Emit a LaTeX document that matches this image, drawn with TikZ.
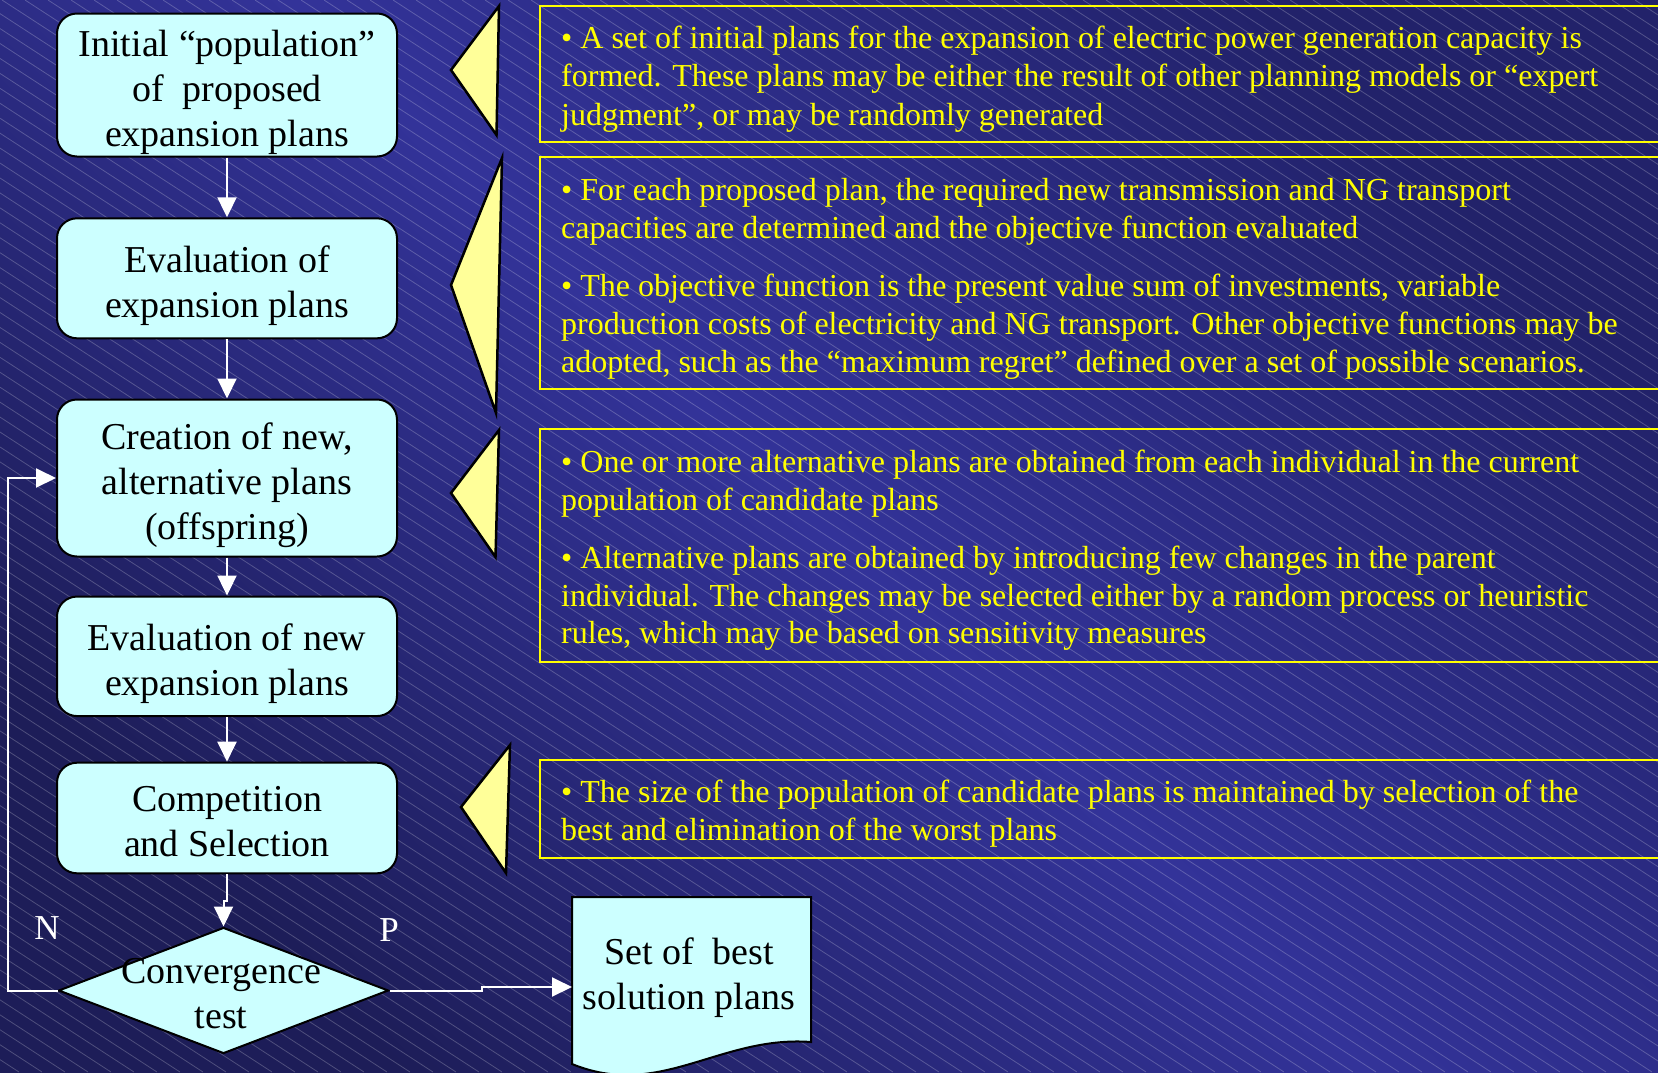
\documentclass[tikz,border=0pt]{standalone}
\usepackage{fontspec}
\setmainfont{Liberation Serif}
\usetikzlibrary{arrows.meta,shapes.geometric}
\definecolor{bgmid}{HTML}{333399}
\definecolor{bgtr}{HTML}{22226A}
\definecolor{bgbl}{HTML}{1D1D58}
\definecolor{boxfill}{HTML}{CCFFFF}
\definecolor{trifill}{HTML}{FFFF99}
\definecolor{ylw}{HTML}{FFFF00}
\newcommand\bigtxt{\fontsize{38}{45}\selectfont}
\newcommand\smalltxt{\fontsize{32}{38.3}\selectfont}
\newcommand\lbltxt{\fontsize{35}{42}\selectfont}
\newcommand\topstrut{\rule{0pt}{33pt}}
\begin{document}
\begin{tikzpicture}[x=1pt,y=-1pt,
  flowbox/.style={draw=black, line width=2pt, fill=boxfill, rounded corners=20pt,
    minimum width=340pt, inner sep=0pt, align=center, font=\bigtxt, text=black},
  decision/.style={shape=diamond, draw=black, line width=2pt, fill=boxfill,
    minimum width=330pt, minimum height=126pt, inner sep=0pt},
  bigtext/.style={align=center, font=\bigtxt, text=black, inner sep=0pt},
  conn/.style={draw=white, line width=2pt, -{Triangle[width=19pt,length=20pt]}},
  callout/.style={fill=trifill, draw=black, line width=2.5pt, line join=miter},
  infobox/.style={draw=ylw, line width=2.5pt},
  tline/.style={anchor=base west, inner sep=0pt, font=\smalltxt, text=ylw},
  yn/.style={anchor=base, inner sep=0pt, font=\lbltxt, text=white},
  stripe/.style={draw=white, opacity=0.22, line width=0.8pt}
]
\useasboundingbox (0,0) rectangle (1658,1072);
\clip (0,0) rectangle (1658,1072);

% background
\shade[shading=axis, top color=bgtr, bottom color=bgbl, middle color=bgmid, shading angle=-45]
  (0,0) rectangle (1658,1072);
\foreach \i in {-1700,-1677,...,1658} {
  \draw[stripe] (\i,0) -- ++(1650,1072);
}

% flowchart boxes
\node[flowbox, minimum height=143pt] (b1) at (227,85)
  {\topstrut Initial “population”\\of~ proposed\\\smash{expansion plans}};
\node[flowbox, minimum height=120pt] (b2) at (227,278.3)
  {\topstrut Evaluation of\\\smash{expansion plans}};
\node[flowbox, minimum height=157pt] (b3) at (227,478)
  {\topstrut Creation of new,\\alternative plans\\\smash{(offspring)}};
\node[flowbox, minimum height=119.5pt] (b4) at (227,656.3)
  {\topstrut Evaluation of new\\\smash{expansion plans}};
\node[flowbox, minimum height=110.6pt] (b5) at (227,818)
  {\topstrut Competition\\and Selection};
\node[decision] (dia) at (223.5,990.5) {};
\node[bigtext] (dtxt) at (221,993.5) {Convergence\\test};

% document shape
\draw[fill=boxfill, line width=2pt, line join=miter]
  (572,897) -- (811,897) -- (811,1042)
  .. controls (720,1035) and (660,1100) .. (572,1064) -- cycle;
\node[bigtext] (doc) at (689,973.5) {Set of~ best\\\smash{solution plans}};
\coordinate (docin) at (572,987);

% labels
\node[yn] (lblN) at (47,939) {N};
\node[yn] (lblP) at (389,941.5) {P};

% connectors
\draw[conn] (b1) -- (b2);
\draw[conn] (b2) -- (b3);
\draw[conn] (b3) -- (b4);
\draw[conn] (b4) -- (b5);
\draw[conn] (b5.south) -- ++(0,27) -| (dia.north);
\draw[conn] (dia.west) -- ++(-50,0) |- (b3.west);
\draw[conn] (dia.east) -- ++(92,0) |- (docin);

% callout triangles
\filldraw[callout] (499,6) -- (451,70) -- (496.5,135) -- cycle;
\filldraw[callout] (502,158) -- (451,285) -- (496,413) -- cycle;
\filldraw[callout] (499,430) -- (451,493) -- (495.5,557) -- cycle;
\filldraw[callout] (510,745) -- (461,807) -- (506,873) -- cycle;

% information boxes
\draw[infobox] (540,6) rectangle (1720,142);
\draw[infobox] (540,157) rectangle (1720,389);
\draw[infobox] (540,429) rectangle (1720,662);
\draw[infobox] (540,760) rectangle (1720,858);

\node[tline] (t1a) at (561,48.5) {• A set of initial plans for the expansion of electric power generation capacity is};
\node[tline] (t1b) at (561,86.8) {formed. These plans may be either the result of other planning models or “expert};
\node[tline] (t1c) at (561,125) {judgment”, or may be randomly generated};

\node[tline] (t2a) at (561,200.5) {• For each proposed plan, the required new transmission and NG transport};
\node[tline] (t2b) at (561,238.5) {capacities are determined and the objective function evaluated};
\node[tline] (t2c) at (561,296.5) {• The objective function is the present value sum of investments, variable};
\node[tline] (t2d) at (561,334) {production costs of electricity and NG transport. Other objective functions may be};
\node[tline] (t2e) at (561,372) {adopted, such as the “maximum regret” defined over a set of possible scenarios.};

\node[tline] (t3a) at (561,472.7) {• One or more alternative plans are obtained from each individual in the current};
\node[tline] (t3b) at (561,510.5) {population of candidate plans};
\node[tline] (t3c) at (561,568) {• Alternative plans are obtained by introducing few changes in the parent};
\node[tline] (t3d) at (561,606) {individual. The changes may be selected either by a random process or heuristic};
\node[tline] (t3e) at (561,643.7) {rules, which may be based on sensitivity measures};

\node[tline] (t4a) at (561,802.5) {• The size of the population of candidate plans is maintained by selection of the};
\node[tline] (t4b) at (561,840) {best and elimination of the worst plans};
\end{tikzpicture}
\end{document}
